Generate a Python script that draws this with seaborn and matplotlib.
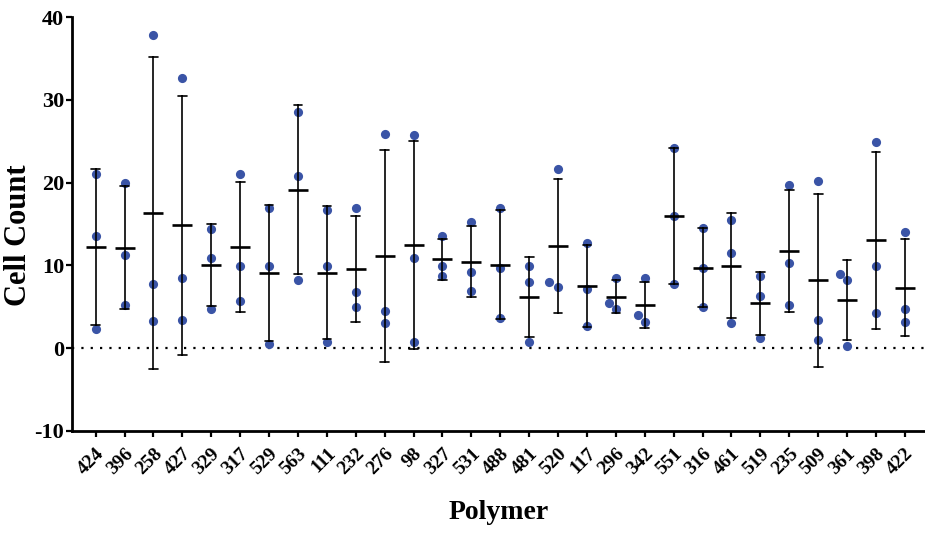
import matplotlib
matplotlib.use("Agg")
import matplotlib.pyplot as plt
import seaborn as sns
import pandas as pd

polymers = ["424", "396", "258", "427", "329", "317", "529", "563", "111", "232",
            "276", "98", "327", "531", "488", "481", "520", "117", "296", "342",
            "551", "316", "461", "519", "235", "509", "361", "398", "422"]

replicate_a = [21.0, 20.0, 37.9, 32.7, 14.45, 21.0, 16.9, 28.5, 16.7, 16.9,
               25.9, 25.7, 13.5, 15.25, 16.9, 9.95, 21.7, 12.7, 8.45, 8.45,
               24.2, 14.5, 15.5, 8.75, 19.7, 20.2, 8.2, 24.9, 14.0]
replicate_b = [13.5, 11.2, 7.75, 8.45, 10.95, 9.95, 9.95, 20.75, 9.95, 6.75,
               4.45, 10.95, 9.95, 9.2, 9.7, 7.95, 7.45, 7.15, 5.45, 4.0,
               15.95, 9.7, 11.45, 6.25, 10.25, 3.45, 8.95, 9.95, 4.7]
replicate_c = [2.3, 5.25, 3.25, 3.45, 4.7, 5.7, 0.5, 8.2, 0.75, 5.0,
               3.0, 0.75, 8.75, 6.95, 3.7, 0.75, 7.95, 2.7, 4.7, 3.2,
               7.7, 5.0, 3.0, 1.2, 5.25, 0.95, 0.25, 4.25, 3.2]

df = pd.DataFrame({
    "Polymer": polymers * 3,
    "Cell Count": replicate_a + replicate_b + replicate_c,
})

sns.set_style("ticks")
plt.rcParams["font.family"] = ["Liberation Serif", "DejaVu Serif"]
plt.rcParams["font.weight"] = "bold"
plt.rcParams["axes.unicode_minus"] = False
for key in ("text.color", "axes.labelcolor", "xtick.color", "ytick.color",
            "axes.edgecolor"):
    plt.rcParams[key] = "black"

fig = plt.figure(figsize=(9.25, 5.36), dpi=100)
ax = fig.add_axes([0.0778, 0.196, 0.922, 0.772])

point_color = "#3A54A6"

# replicate points, spread apart only where they overlap
sns.swarmplot(data=df, x="Polymer", y="Cell Count", order=polymers,
              color=point_color, size=6.6, ax=ax, zorder=3, linewidth=0)

# mean line with SD error bars
sns.pointplot(data=df, x="Polymer", y="Cell Count", order=polymers,
              errorbar="sd", capsize=0.3, linestyle="none", marker="_",
              markersize=14, markeredgewidth=1.9, color="black",
              err_kws={"linewidth": 1.2}, ax=ax, zorder=4)

ax.axhline(0, color="black", linestyle=(0, (1, 3.2)), linewidth=1.6, zorder=1)

ax.set_ylim(-10, 40)
ax.set_yticks([-10, 0, 10, 20, 30, 40])
ax.set_xlim(-0.82, 28.69)

for side in ("top", "right"):
    ax.spines[side].set_visible(False)
for side in ("left", "bottom"):
    ax.spines[side].set_linewidth(2.0)
    ax.spines[side].set_color("black")

ax.tick_params(axis="both", length=4, width=1.6, color="black", labelcolor="black")
ax.tick_params(axis="y", labelsize=16, pad=1.5)
ax.tick_params(axis="x", labelsize=14, pad=6)
for lab in ax.get_yticklabels():
    lab.set_fontweight("bold")
for lab in ax.get_xticklabels():
    lab.set_fontweight("bold")
    lab.set_rotation(45)
    lab.set_ha("right")
    lab.set_rotation_mode("anchor")

ax.set_ylabel("Cell Count", fontsize=22, fontweight="bold", color="black")
ax.yaxis.set_label_coords(-0.046, 0.473)
ax.set_xlabel("Polymer", fontsize=20, fontweight="bold", labelpad=16, color="black")

fig.savefig("out.png", dpi=100)
